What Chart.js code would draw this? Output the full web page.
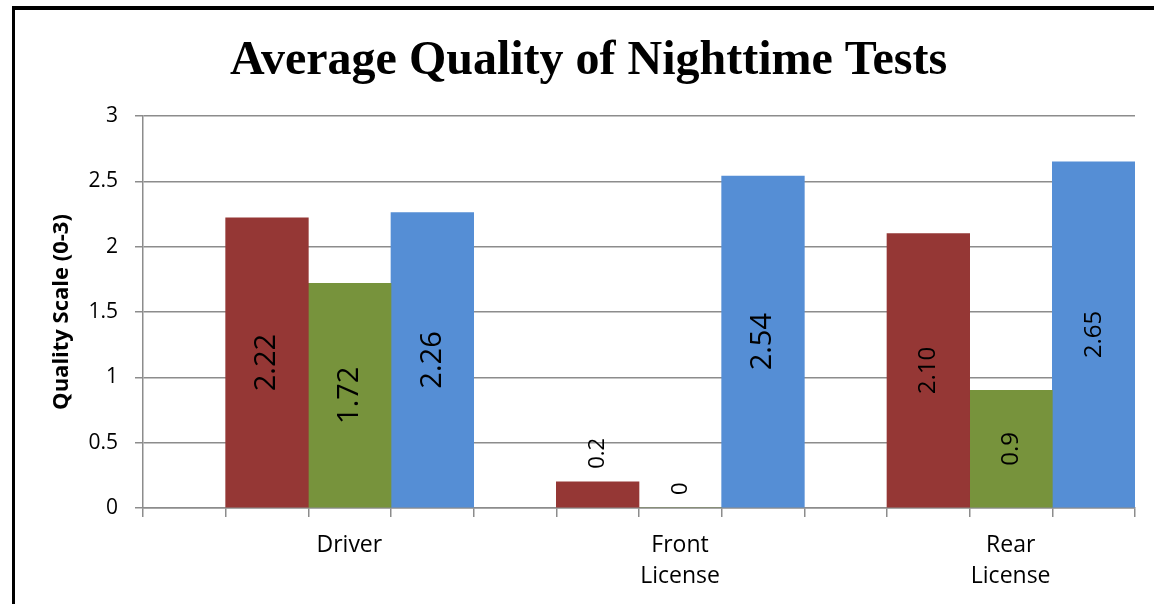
<!DOCTYPE html>
<html>
<head>
<meta charset="utf-8">
<script src="https://cdn.jsdelivr.net/npm/chart.js@4/dist/chart.umd.min.js"></script>
<style>
  html, body { margin: 0; padding: 0; background: #fff; }
  #frame { position: absolute; left: 12px; top: 6px; width: 1200px; height: 700px;
           border-left: 3px solid #000; border-top: 4px solid #000; }
  #chart { position: absolute; left: 0; top: 0; }
</style>
</head>
<body>
<div id="frame"></div>
<canvas id="chart" width="1154" height="604"></canvas>
<script>
// chart data
const categories = ['Driver', ['Front', 'License'], ['Rear', 'License']];
const emptySeries = [null, null, null];   // unused first slot in every group
const redSeries = [2.22, 0.2, 2.10];
const greenSeries = [1.72, 0, 0.9];
const blueSeries = [2.26, 2.54, 2.65];
const redLabels = ['2.22', '0.2', '2.10'];
const greenLabels = ['1.72', '0', '0.9'];
const blueLabels = ['2.26', '2.54', '2.65'];
const yTicks = [0, 0.5, 1, 1.5, 2, 2.5, 3];

const gridGrey = '#8c8c8c';

// rotated value labels on the bars
const barLabels = {
    id: 'barLabels',
    afterDatasetsDraw(chart, args, opts) {
        const ctx = chart.ctx;
        chart.data.datasets.forEach((ds, i) => {
            if (!ds.valueLabels) return;
            const meta = chart.getDatasetMeta(i);
            meta.data.forEach((bar, j) => {
                const text = ds.valueLabels[j];
                const size = opts.sizes[i][j];
                ctx.save();
                ctx.font = size + 'px "Open Sans"';
                const w = ctx.measureText(text).width;
                const h = bar.base - bar.y;
                let cy = (bar.y + bar.base) / 2;
                if (h < w + 10) cy = bar.y - opts.gap - w / 2;
                ctx.translate(bar.x, cy);
                ctx.rotate(-Math.PI / 2);
                ctx.textAlign = 'center';
                ctx.textBaseline = 'middle';
                ctx.fillStyle = '#000';
                ctx.fillText(text, 0, 0);
                ctx.restore();
            });
        });
    }
};

const ctx = document.getElementById('chart').getContext('2d');
const chart = new Chart(ctx, {
    type: 'bar',
    data: {
        labels: categories,
        datasets: [
            { label: 'Series 1', data: emptySeries, backgroundColor: '#4f81bd' },
            { label: 'Series 2', data: redSeries, valueLabels: redLabels, backgroundColor: '#953735' },
            { label: 'Series 3', data: greenSeries, valueLabels: greenLabels, backgroundColor: '#77933c' },
            { label: 'Series 4', data: blueSeries, valueLabels: blueLabels, backgroundColor: '#558ed5' }
        ]
    },
    plugins: [barLabels],
    options: {
        responsive: false,
        animation: false,
        devicePixelRatio: 1,
        categoryPercentage: 1,
        barPercentage: 1,
        layout: { padding: { left: 42, right: 19, top: 0, bottom: 0 } },
        plugins: {
            legend: { display: false },
            tooltip: { enabled: false },
            title: {
                display: true,
                text: 'Average Quality of Nighttime Tests',
                color: '#000',
                font: { family: '"Liberation Serif"', size: 48, weight: 'bold', lineHeight: 1.2 },
                padding: { top: 33, bottom: 25.4 }
            },
            barLabels: {
                gap: 13,
                sizes: [[22, 22, 22], [29, 22, 24], [29, 22, 24], [29, 29, 24]]
            }
        },
        scales: {
            x: {
                type: 'category',
                position: 'bottom',
                weight: 1,
                grid: { display: false, drawTicks: false },
                border: { display: false },
                ticks: {
                    color: '#000',
                    font: { family: '"Open Sans"', size: 23, lineHeight: 1.35 },
                    padding: 13,
                    labelOffset: 41,
                    maxRotation: 0,
                    autoSkip: false
                },
                afterFit: (s) => { s.height = 87; }
            },
            xSlots: {
                type: 'linear',
                position: 'bottom',
                weight: 0,
                min: 0,
                max: 12,
                offset: false,
                ticks: { display: false, stepSize: 1 },
                grid: { offset: false, drawOnChartArea: false, color: gridGrey, tickLength: 9, lineWidth: 1.5 },
                border: { color: gridGrey, width: 1.5 },
                afterFit: (s) => { s.height = 9; }
            },
            y: {
                min: 0,
                max: 3,
                afterBuildTicks: (s) => { s.ticks = yTicks.map(v => ({ value: v })); },
                grid: { color: gridGrey, tickLength: 8, lineWidth: 1.5 },
                border: { color: gridGrey, width: 1.5 },
                ticks: {
                    color: '#000',
                    padding: 17,
                    font: { family: '"Open Sans"', size: 21 },
                    callback: (v) => String(v)
                },
                title: {
                    display: true,
                    text: 'Quality Scale (0-3)',
                    color: '#000',
                    font: { family: '"Open Sans"', size: 22, weight: 'bold', lineHeight: 1.2 },
                    padding: { top: 7, bottom: 0 }
                },
                afterFit: (s) => { s.width = 101; }
            }
        }
    }
});
</script>
</body>
</html>
